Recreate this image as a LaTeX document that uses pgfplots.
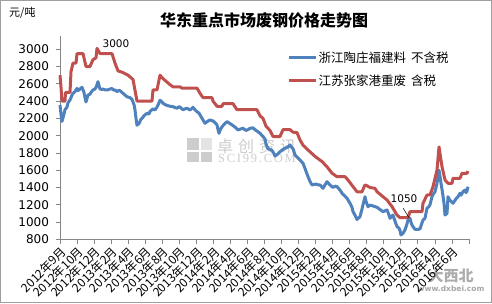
\documentclass[border=0pt]{standalone}
\usepackage{pgfplots}
\pgfplotsset{compat=1.18}
\usepackage{fontspec}
\setmainfont{DejaVu Sans}
\newfontfamily\cjk{Noto Sans CJK SC}
\newfontfamily\wmserif[LetterSpace=14]{Liberation Serif}
\definecolor{sblue}{HTML}{4F81BD}
\definecolor{sred}{HTML}{C0504D}
\definecolor{axgray}{HTML}{868686}
\definecolor{wm}{HTML}{CDCDCD}
\begin{document}
\begin{tikzpicture}
\useasboundingbox (0,0) rectangle (492pt,303pt);
\draw[color=gray!75, line width=0.8pt] (0.5pt,0.5pt) rectangle (491.5pt,302.5pt);
\node[font=\cjk\bfseries\fontsize{16}{18}\selectfont] at (264pt,283pt) {华东重点市场废钢价格走势图};
\node[font=\cjk\fontsize{11}{13}\selectfont, anchor=west, inner sep=0pt] at (9pt,290pt) {元/吨};
% watermark
\fill[wm] (187pt,153pt) rectangle (198.5pt,165pt);
\fill[wm!55] (200.5pt,153pt) rectangle (212pt,165pt);
\fill[wm] (187pt,141pt) rectangle (198.5pt,151pt);
\fill[wm] (200.5pt,141pt) rectangle (212pt,151pt);
\node[font=\cjk\fontsize{16}{18}\selectfont, text=wm, anchor=west, inner sep=0pt] at (217pt,156.5pt) {卓\hspace{5pt}创\hspace{5pt}资\hspace{5pt}讯};
\node[font=\wmserif\fontsize{12.5}{13}\selectfont, text=wm, anchor=west, inner sep=0pt] at (218pt,144.5pt) {SCI99.COM};
\node[font=\cjk\bfseries\itshape\fontsize{15}{16}\selectfont, text=gray!65, anchor=center] at (451pt,27.5pt) {大西北};
\node[font=\bfseries\fontsize{7.5}{8}\selectfont, text=gray!70, anchor=center] at (451pt,14.5pt) {www.dxbei.com};
\begin{axis}[
  at={(60pt,63.7pt)}, anchor=south west, scale only axis,
  width=409pt, height=203pt,
  xmin=60, xmax=469, ymin=800, ymax=3150,
  axis x line*=bottom, axis y line*=left,
  axis line style={axgray, line width=0.8pt, -},
  every tick/.style={axgray, line width=0.8pt},
  tick align=outside, major tick length=4.5pt,
  ytick={800,1000,...,3000},
  scaled y ticks=false,
  /pgf/number format/1000 sep={},
  /pgf/number format/assume math mode=true,
  yticklabel style={font=\fontsize{12}{13}\selectfont, xshift=-3pt},
  xtick={60,77.04,94.08,111.13,128.17,145.21,162.25,179.29,196.33,213.38,230.42,247.46,264.5,281.54,298.58,315.63,332.67,349.71,366.75,383.79,400.83,417.88,434.92,451.96,469},
  xticklabels={2012年9月,2012年10月,2012年12月,2013年2月,2013年4月,2013年6月,2013年8月,2013年10月,2013年12月,2014年2月,2014年4月,2014年6月,2014年8月,2014年10月,2014年12月,2015年2月,2015年4月,2015年6月,2015年8月,2015年10月,2015年12月,2016年2月,2016年4月,2016年6月,{}},
  xticklabel style={font=\cjk\fontsize{12}{13}\selectfont, rotate=45, anchor=north east, inner sep=1pt},
  legend style={draw=none, fill=none, at={(rel axis cs:0.556,0.93)}, anchor=north west,
    font=\cjk\fontsize{12.5}{14}\selectfont, row sep=9pt, inner sep=0pt,
    nodes={inner sep=1pt}},
  legend cell align=left,
  legend image code/.code={\draw[#1, line width=3pt] (0pt,0pt) -- (27pt,0pt);},
  clip=false,
]
\addplot[sblue, line width=3pt, line join=round] coordinates {
(60,2355)(61,2250)(62,2165)(64,2250)(65,2300)(67,2330)(68,2380)(70,2413)(71,2440)(72,2470)(73,2490)(75,2510)(77,2548)(78,2520)(80,2540)(82,2560)(83,2530)(84,2500)(85,2440)(86,2390)(87,2430)(88,2470)(90,2480)(91,2500)(93,2529)(95,2540)(96,2560)(97,2590)(98,2625)(99,2580)(100,2540)(102,2535)(103,2540)(105,2530)(108,2530)(110,2540)(112,2545)(114,2525)(115,2530)(117,2510)(119,2525)(120,2520)(122,2500)(123,2490)(125,2470)(127,2450)(130,2440)(132,2420)(134,2360)(135,2300)(136,2200)(137,2120)(139,2140)(141,2190)(142,2200)(144,2230)(145,2240)(147,2259)(149,2250)(150,2280)(152,2300)(153,2310)(155,2297)(157,2330)(159,2380)(160,2410)(162,2390)(163,2375)(165,2360)(167,2350)(170,2340)(173,2336)(175,2325)(177,2317)(179,2335)(180,2330)(183,2300)(185,2310)(187,2317)(190,2297)(192,2315)(193,2328)(195,2300)(197,2278)(199,2260)(202,2201)(205,2143)(207,2160)(208,2170)(210,2181)(213,2170)(215,2150)(217,2124)(218,2070)(219,2027)(220,2060)(222,2104)(225,2140)(227,2162)(230,2140)(232,2124)(235,2100)(238,2066)(240,2075)(243,2085)(246,2060)(248,2070)(250,2085)(253,2090)(256,2060)(258,2045)(260,2027)(263,1990)(265,1960)(266,1900)(268,1850)(270,1840)(272,1830)(274,1790)(275,1764)(277,1780)(280,1814)(283,1840)(285,1854)(288,1870)(290,1892)(292,1860)(293,1850)(295,1776)(298,1740)(300,1718)(303,1680)(305,1620)(308,1525)(310,1470)(312,1429)(314,1435)(316,1440)(318,1430)(320,1429)(323,1390)(325,1430)(327,1467)(330,1429)(333,1400)(335,1415)(337,1410)(340,1370)(342,1333)(345,1300)(347,1275)(350,1217)(352,1170)(353,1120)(355,1080)(357,1030)(358,1040)(360,1062)(362,1150)(363,1200)(365,1293)(366,1240)(368,1178)(370,1195)(372,1190)(375,1178)(377,1170)(380,1145)(383,1120)(385,1130)(387,1140)(389,1080)(390,1043)(392,1070)(393,1081)(395,1010)(397,946)(399,930)(400,900)(401,850)(403,870)(405,908)(407,980)(408,1023)(410,1043)(411,1000)(412,965)(414,930)(415,916)(418,915)(420,920)(422,990)(423,1023)(425,1043)(427,1159)(429,1180)(430,1200)(432,1293)(433,1320)(435,1350)(437,1448)(438,1520)(439,1600)(440,1530)(441,1448)(442,1380)(443,1300)(444,1217)(445,1081)(446,1090)(447,1101)(448,1293)(449,1270)(450,1250)(452,1230)(453,1217)(455,1250)(456,1270)(458,1293)(460,1333)(461,1310)(463,1351)(465,1371)(466,1340)(467,1360)(468,1409)
};
\addlegendentry{浙江陶庄福建料\hspace{5pt}不含税}
\addplot[sred, line width=3pt, line join=round] coordinates {
(60,2700)(61,2560)(62,2400)(65,2400)(65.5,2500)(70,2500)(71,2740)(73,2840)(76,2840)(77,2950)(83,2950)(86,2800)(90,2800)(93,2880)(96,2900)(97,3010)(100,2950)(112,2950)(115,2840)(118,2750)(123,2730)(128,2700)(133,2650)(137,2400)(152,2400)(153,2530)(157,2530)(160,2700)(163,2660)(170,2590)(173,2565)(180,2565)(182,2550)(197,2550)(200,2490)(203,2440)(212,2440)(213,2400)(217,2340)(222,2340)(223,2370)(233,2370)(237,2300)(257,2300)(260,2230)(263,2200)(266,2110)(270,2060)(273,1990)(280,1990)(283,2070)(290,2070)(293,2040)(297,2035)(300,1950)(303,1890)(308,1834)(315,1760)(322,1700)(327,1640)(332,1565)(337,1525)(345,1525)(348,1487)(353,1410)(357,1350)(362,1350)(365,1430)(367,1420)(370,1400)(375,1390)(377,1351)(387,1255)(392,1178)(397,1081)(400,1050)(408,1050)(410,1120)(422,1120)(423,1217)(427,1313)(430,1313)(433,1409)(437,1602)(439,1870)(442,1641)(445,1487)(448,1448)(452,1448)(453,1506)(460,1506)(462,1564)(467,1564)(468,1590)
};
\addlegendentry{江苏张家港重废\hspace{5pt}含税}
\node[font=\fontsize{10.5}{11}\selectfont, inner sep=0pt] at (axis cs:116,3061) {3000};
\node[font=\fontsize{10.5}{11}\selectfont, inner sep=0pt] at (axis cs:404,1267) {1050};
\draw[black, line width=0.5pt] (axis cs:403,1162) -- (axis cs:409,1050);
\end{axis}
\end{tikzpicture}
\end{document}
